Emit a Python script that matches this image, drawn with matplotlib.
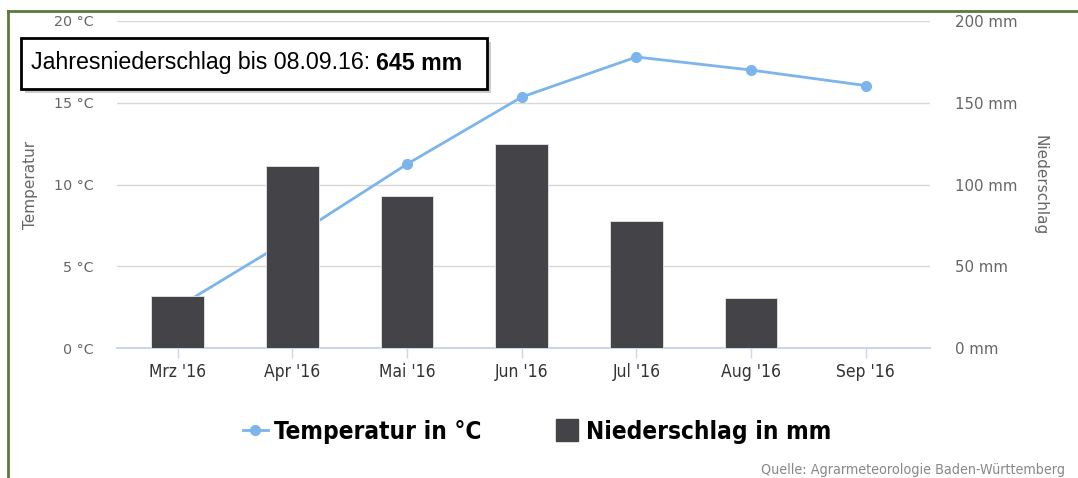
import matplotlib
matplotlib.use("Agg")
import matplotlib.pyplot as plt
from matplotlib.lines import Line2D
from matplotlib.patches import Rectangle
import numpy as np

# Werte
monate = ["Mrz '16", "Apr '16", "Mai '16", "Jun '16", "Jul '16", "Aug '16", "Sep '16"]
temperatur = [2.5, 6.75, 11.25, 15.35, 17.8, 17.0, 16.05]
niederschlag = [32.0, 111.5, 93.0, 124.6, 77.7, 30.4, 0.0]
temp_ticks = [0, 5, 10, 15, 20]
nied_ticks = [0, 50, 100, 150, 200]

W, H = 1078, 478
BAR = "#434348"
LINE = "#7cb5ec"
GRID = "#d8d8d8"
ACHSE = "#ccd6eb"
LABEL = "#666666"
RAHMEN = "#5b7a3a"


def fx(px):
    return px / W


def fy(py):
    return 1 - py / H


fig = plt.figure(figsize=(W / 100, H / 100), dpi=100)
ax = fig.add_axes([fx(117), fy(348), fx(930) - fx(117), fy(21) - fy(348)])
ax2 = ax.twinx()

x = np.arange(len(monate))

# Temperatur-Linie (liegt hinter den Balken)
ax.plot(x, temperatur, color=LINE, lw=2, marker="o", ms=7, zorder=2)
ax.set_ylim(0, 20)
ax.set_yticks(temp_ticks)
ax.set_yticklabels([f"{t} °C" for t in temp_ticks])
ax.grid(axis="y", color=GRID, lw=1)
ax.set_axisbelow(True)

# Niederschlag-Balken
ax2.bar(x, niederschlag, width=0.46, color=BAR, edgecolor="#e6e6e6", lw=0.6, zorder=3)
ax2.set_ylim(0, 200)
ax2.set_yticks(nied_ticks)
ax2.set_yticklabels([f"{n} mm" for n in nied_ticks])

ax.set_xlim(-0.53, 6.56)
ax.set_xticks(x)
ax.set_xticklabels(monate)

for a in (ax, ax2):
    for s in a.spines.values():
        s.set_visible(False)
ax.spines["bottom"].set_visible(True)
ax.spines["bottom"].set_color(ACHSE)
ax.spines["bottom"].set_linewidth(1.5)
ax.spines["bottom"].set_zorder(5)

ax.tick_params(axis="x", length=7, width=1, color=ACHSE, pad=4,
               labelsize=12.5, labelcolor="#333333")
ax.tick_params(axis="y", length=0, pad=17, labelsize=10.3, labelcolor=LABEL)
ax2.tick_params(axis="y", length=0, pad=18, labelsize=10.8, labelcolor=LABEL)
for lab in ax.get_xticklabels():
    lab.set_fontstretch("condensed")

fig.text(fx(30), fy(185), "Temperatur", rotation=90, ha="center", va="center",
         fontsize=11, color=LABEL)
fig.text(fx(1040), fy(185), "Niederschlag", rotation=270, ha="center", va="center",
         fontsize=11, color=LABEL)

# Rahmen oben und links
fig.add_artist(Line2D([fx(8), 1], [fy(11), fy(11)], color=RAHMEN, lw=2))
fig.add_artist(Line2D([fx(8), fx(8)], [fy(11), 0], color=RAHMEN, lw=2))

# Hinweisbox mit Schatten
fig.add_artist(Rectangle((fx(25), fy(93)), fx(487) - fx(21), fy(38) - fy(89),
                         facecolor="#999999", edgecolor="none", alpha=0.5,
                         transform=fig.transFigure, zorder=8))
fig.add_artist(Rectangle((fx(21), fy(89)), fx(487) - fx(21), fy(38) - fy(89),
                         facecolor="white", edgecolor="black", lw=2,
                         transform=fig.transFigure, zorder=9))
t1 = fig.text(fx(31), fy(63), "Jahresniederschlag bis 08.09.16: ",
              family="Liberation Sans", fontsize=16.7, va="center", zorder=10)
fig.canvas.draw()
bb = t1.get_window_extent()
fig.text(bb.x1 / W, fy(63), "645 mm", family="Liberation Sans",
         fontsize=16.7, fontweight="bold", va="center", zorder=10)

# Legende
handles = [
    Line2D([], [], color=LINE, lw=2, marker="o", ms=7),
    Line2D([], [], color=BAR, marker="s", ms=16, lw=0),
]
fig.legend(handles, ["Temperatur in °C", "Niederschlag in mm"],
           loc="center", bbox_to_anchor=(fx(537), fy(432)), ncol=2,
           frameon=False, columnspacing=3.0, handlelength=1.05, handletextpad=0.25,
           prop={"family": "DejaVu Sans", "stretch": "condensed",
                 "weight": "bold", "size": 17.5})

fig.text(fx(1065), fy(470), "Quelle: Agrarmeteorologie Baden-Württemberg",
         ha="right", va="center", fontsize=10.3, color="#888888",
         fontstretch="condensed")

fig.savefig("out.png", dpi=100)
